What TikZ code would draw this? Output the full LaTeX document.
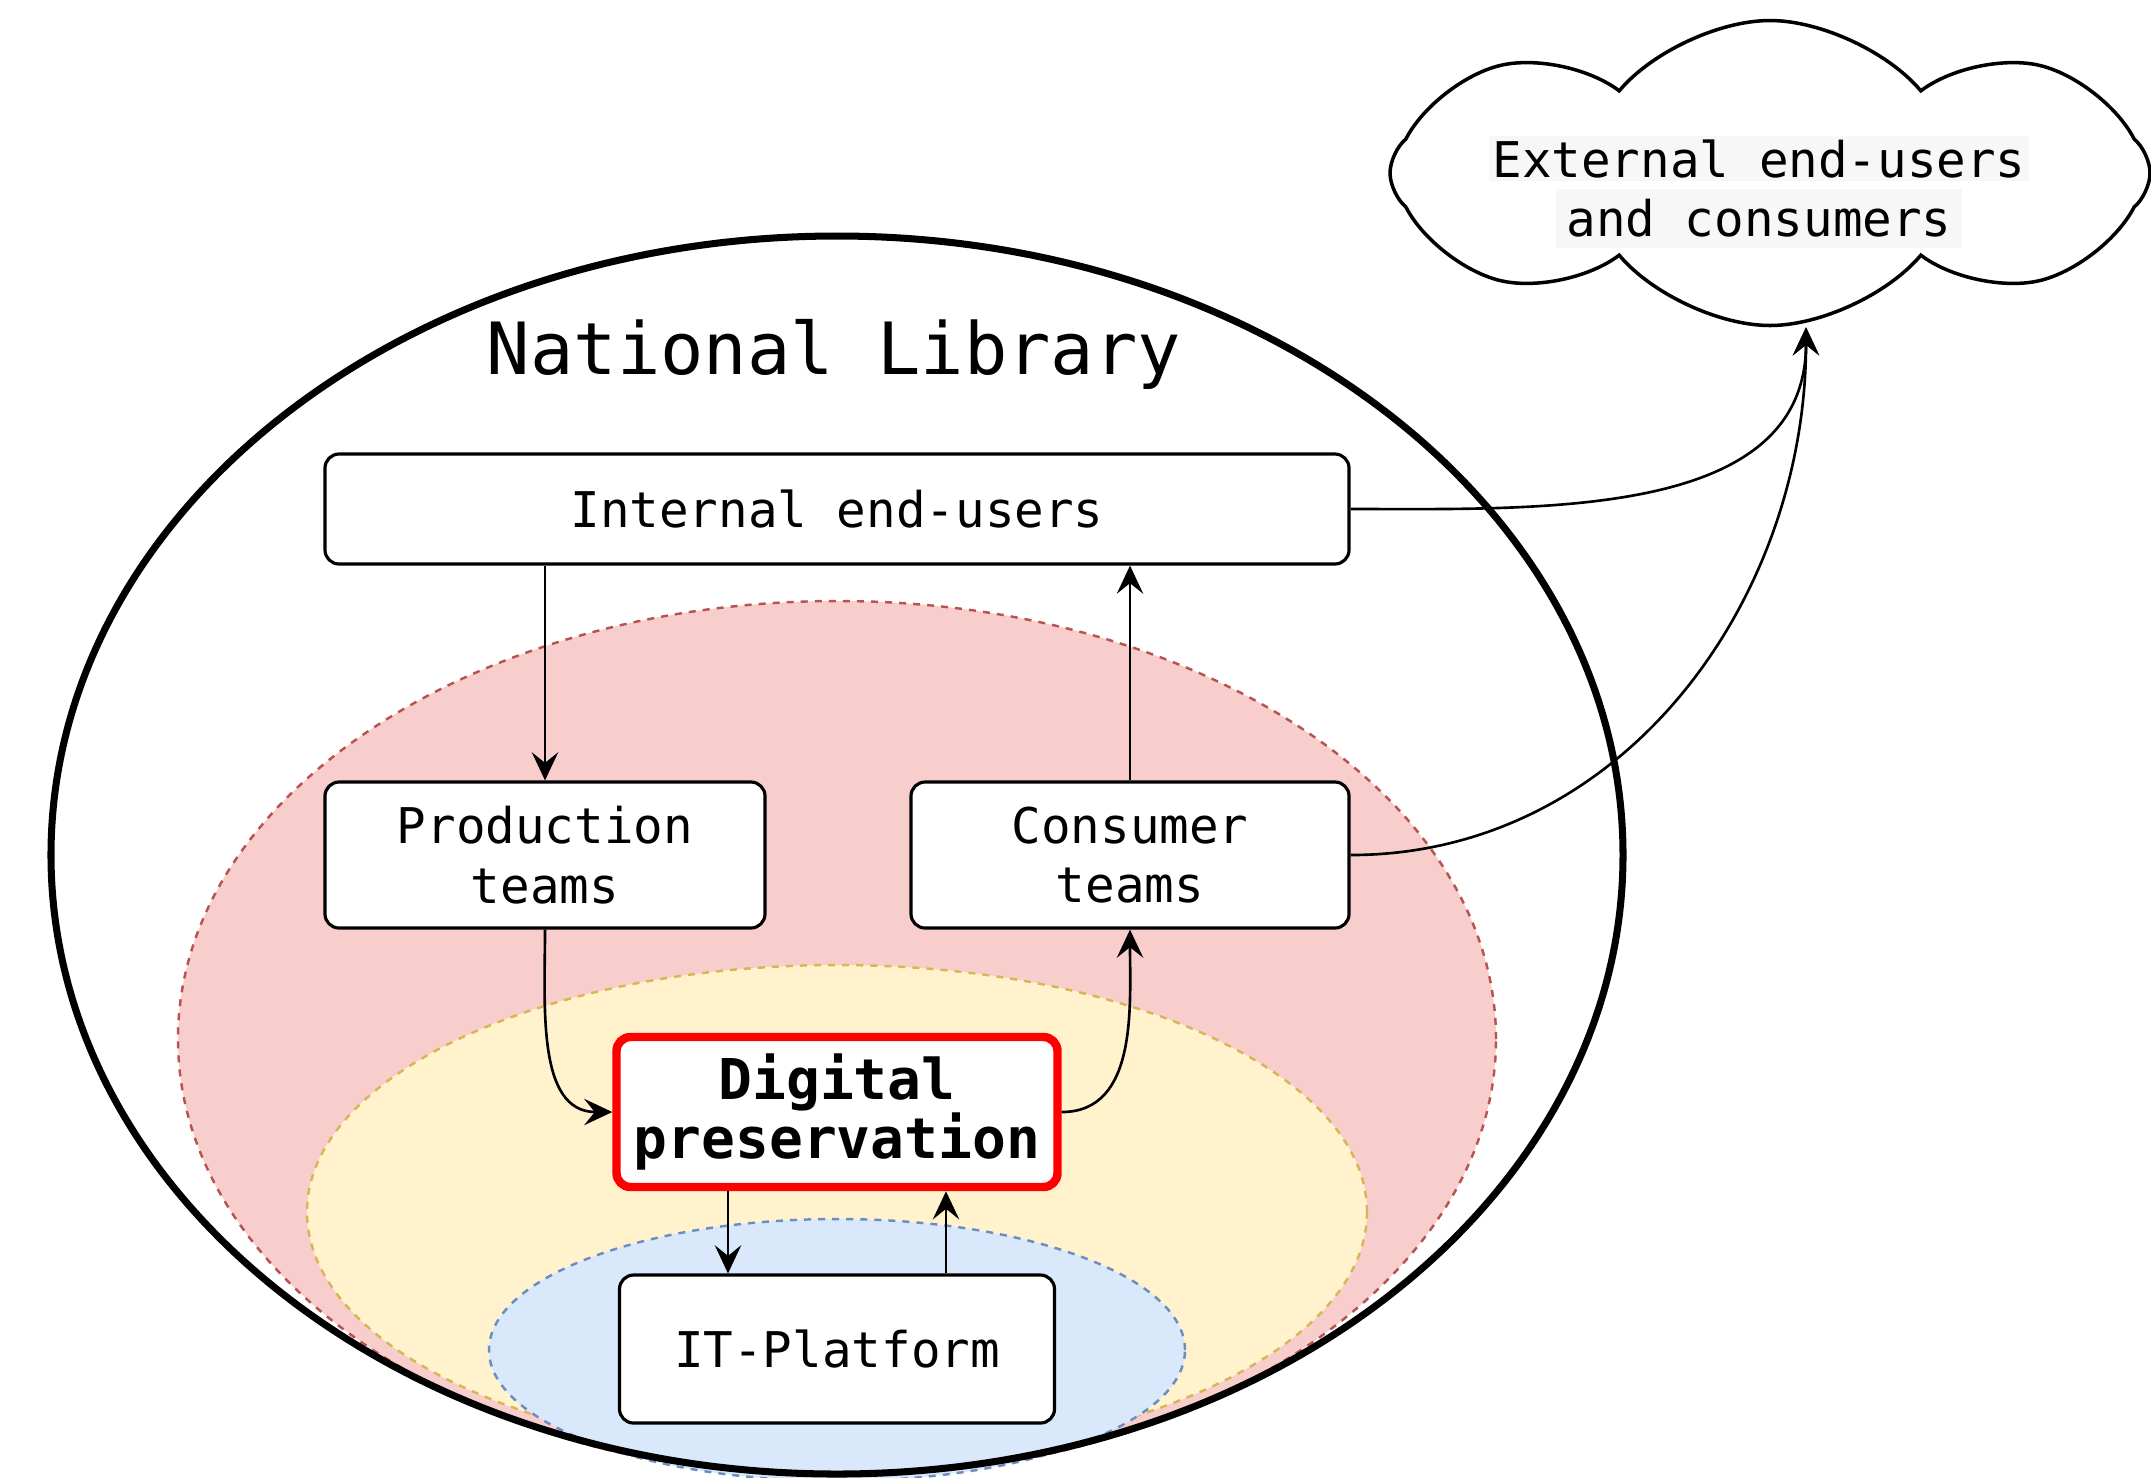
\documentclass[tikz,border=0pt]{standalone}
\usepackage{fontspec}
\setmonofont{DejaVu Sans Mono}
\usepackage{tikz}
\usetikzlibrary{arrows.meta, positioning, shapes.symbols, calc}

\definecolor{redfill}{HTML}{F8CECC}
\definecolor{redline}{HTML}{B85450}
\definecolor{yellowfill}{HTML}{FFF2CC}
\definecolor{yellowline}{HTML}{D6B656}
\definecolor{bluefill}{HTML}{DAE8FC}
\definecolor{blueline}{HTML}{6C8EBF}

\begin{document}
\begin{tikzpicture}[>={Stealth[length=8pt, width=7.5pt, inset=3pt]},
    box/.style={draw, line width=0.9pt, rounded corners=4pt, fill=white,
                font=\ttfamily\fontsize{14}{17}\selectfont, align=center},
    zone/.style={line width=0.7pt, dash pattern=on 2pt off 2pt},
    link/.style={->, line width=0.75pt}]
  \useasboundingbox (0,0) rectangle (21.51,-14.77);

  % nested areas, outermost first
  \draw[zone, draw=redline, fill=redfill] (8.37,-10.39) ellipse [x radius=6.59, y radius=4.38];
  \draw[zone, draw=yellowline, fill=yellowfill] (8.37,-12.12) ellipse [x radius=5.30, y radius=2.47];
  \draw[zone, draw=blueline, fill=bluefill] (8.37,-13.50) ellipse [x radius=3.48, y radius=1.31];

  % library border
  \draw[line width=2pt] (8.37,-8.55) ellipse [x radius=7.86, y radius=6.19];
  \node[font=\ttfamily\fontsize{20.5}{24}\selectfont, anchor=base] (lib) at (8.34,-3.74) {National Library};

  % boxes
  \node[box, minimum width=10.24cm, minimum height=1.10cm] (users) at (8.37,-5.09) {Internal end-users};
  \node[box, minimum width=4.40cm, minimum height=1.46cm] (prod) at (5.45,-8.55) {Production\\teams};
  \node[box, minimum width=4.38cm, minimum height=1.46cm] (cons) at (11.30,-8.55) {Consumer\\teams};
  \node[box, draw=red, line width=2.4pt, inner sep=2pt, minimum width=4.41cm, minimum height=1.50cm,
        font=\ttfamily\bfseries\fontsize{16}{17}\selectfont] (dp) at (8.37,-11.12) {Digital\\preservation};
  \node[box, minimum width=4.35cm, minimum height=1.48cm] (it) at (8.37,-13.49) {IT-Platform};

  % outside world
  \node[cloud, cloud puffs=8, cloud puff arc=100, cloud ignores aspect, draw, line width=1pt,
        fill=white, minimum width=7.6cm, minimum height=3.05cm] (ext) at (17.70,-1.73) {};
  \node[font=\ttfamily\fontsize{14}{17}\selectfont, align=center] (exttext) at (17.59,-1.92)
        {\setlength{\fboxsep}{1pt}\colorbox{black!3}{External end-users}\\\colorbox{black!3}{and consumers}};

  % flows
  \draw[link] (users.south -| prod.north) -- (prod.north);
  \draw[link] (cons.north) -- (cons.north |- users.south);
  \draw[link] (prod.south) to[out=-90, in=180] (dp.west);
  \draw[link] (dp.east) to[out=0, in=-90] (cons.south);
  \draw[link] ([xshift=-1.09cm]dp.south) -- ([xshift=-1.09cm]dp.south |- it.north);
  \draw[link] ([xshift=1.09cm]it.north) -- ([xshift=1.09cm]it.north |- dp.south);
  \draw[link] (users.east) to[out=0, in=-90] ([xshift=3.6mm]ext.south);
  \draw[link] (cons.east) to[out=0, in=-90] ([xshift=3.6mm]ext.south);
\end{tikzpicture}
\end{document}
